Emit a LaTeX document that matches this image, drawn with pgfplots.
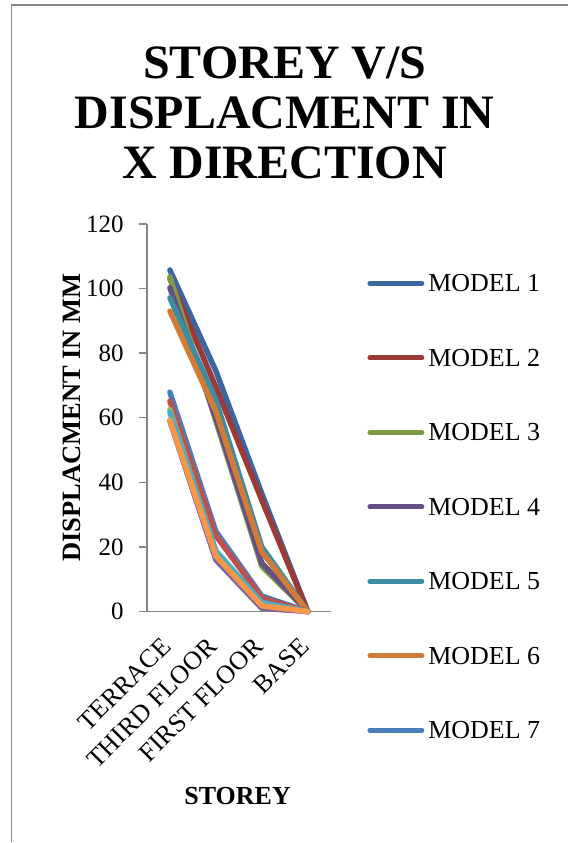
\documentclass[border=0pt]{standalone}
\usepackage{fontspec}
\setmainfont{Liberation Serif}
\usepackage{pgfplots}
\pgfplotsset{compat=1.18}

% series colours
\definecolor{mA}{HTML}{3B66A0}
\definecolor{mB}{HTML}{9C3A38}
\definecolor{mC}{HTML}{7D9A47}
\definecolor{mD}{HTML}{654F87}
\definecolor{mE}{HTML}{3A8DA3}
\definecolor{mF}{HTML}{D17C36}
\definecolor{lA}{HTML}{4A7EBB}
\definecolor{lB}{HTML}{C0504D}
\definecolor{lC}{HTML}{9BBB59}
\definecolor{lD}{HTML}{8064A2}
\definecolor{lE}{HTML}{4BACC6}
\definecolor{lF}{HTML}{F79646}
\definecolor{axisgray}{HTML}{868686}

\begin{document}
\begin{tikzpicture}
\fill[white] (0pt,0pt) rectangle (568pt,843pt);
\draw[axisgray, line width=1.3pt] (11.5pt,0pt) -- (11.5pt,838pt) -- (568pt,838pt);

% title
\node[font=\fontsize{48}{50}\selectfont\bfseries, anchor=base, inner sep=0pt] at (285pt,764.7pt) {STOREY V/S};
\node[font=\fontsize{48}{50}\selectfont\bfseries, anchor=base, inner sep=0pt] at (285pt,714.7pt) {DISPLACMENT IN};
\node[font=\fontsize{48}{50}\selectfont\bfseries, anchor=base, inner sep=0pt] at (285pt,664.7pt) {X DIRECTION};

\begin{axis}[
  at={(147pt,231pt)}, anchor=south west,
  scale only axis, width=184pt, height=388pt,
  xmin=-0.5, xmax=3.5, ymin=0, ymax=120,
  xtick={0,1,2,3},
  xticklabels={TERRACE,THIRD FLOOR,FIRST FLOOR,BASE},
  ytick={0,20,...,120},
  axis lines*=left,
  axis line style={draw=axisgray, line width=1.8pt},
  clip=false,
  xtick style={draw=none},
  ytick style={draw=axisgray, line width=1.5pt},
  tick align=outside, major tick length=8pt,
  /pgf/number format/assume math mode=true,
  y tick label style={font=\fontsize{25}{30}\selectfont, anchor=east, inner sep=0pt, xshift=-15pt},
  x tick label style={font=\fontsize{26}{31}\selectfont, xshift=-3.3pt, yshift=-22.7pt, rotate=45, anchor=east, inner sep=0pt},
  xlabel={STOREY},
  xlabel style={font=\fontsize{26}{30}\selectfont\bfseries, at={(axis description cs:0.4935,-0.4768)}, anchor=center, inner sep=0pt},
  ylabel={DISPLACMENT IN MM},
  ylabel style={font=\fontsize{26.5}{30}\selectfont\bfseries, at={(axis description cs:-0.4103,0.5)}, anchor=center, inner sep=0pt},
  every axis plot/.append style={line width=5.5pt, line cap=round, line join=round},
  legend cell align=left,
  legend style={at={(axis description cs:1.1984,0.8686)}, anchor=north west,
    draw=none, fill=none, inner sep=0pt, row sep=57.5pt, column sep=4pt,
    font=\fontsize{26}{30}\selectfont,
    nodes={inner sep=0pt, text height=17pt, text depth=0pt}},
  legend image code/.code={\draw[#1, line width=5pt, line cap=round] (0pt,0pt) -- (52pt,0pt);},
]
% x: 0 = TERRACE, 1 = THIRD FLOOR, 2 = FIRST FLOOR, 3 = BASE
\addplot[mA] coordinates {(0,105.7) (1,74.5) (2,36.5) (3,0)};
\addlegendentry{MODEL 1}
\addplot[mB] coordinates {(0,103.0) (1,69.5) (2,34.5) (3,0)};
\addlegendentry{MODEL 2}
\addplot[mC] coordinates {(0,103.6) (1,59.0) (2,14.0) (3,0)};
\addlegendentry{MODEL 3}
\addplot[mD] coordinates {(0,100.2) (1,60.0) (2,15.0) (3,0)};
\addlegendentry{MODEL 4}
\addplot[mE] coordinates {(0,97.1) (1,65.5) (2,20.0) (3,0)};
\addlegendentry{MODEL 5}
\addplot[mF] coordinates {(0,93.0) (1,62.0) (2,18.5) (3,0)};
\addlegendentry{MODEL 6}
\addplot[lA] coordinates {(0,67.9) (1,24.8) (2,4.8) (3,0)};
\addlegendentry{MODEL 7}
\addplot[lB, forget plot] coordinates {(0,65.1) (1,23.5) (2,4.2) (3,0)};
\addplot[lC, forget plot] coordinates {(0,62.5) (1,18.5) (2,2.5) (3,0)};
\addplot[lD, forget plot] coordinates {(0,59.0) (1,16.0) (2,1.0) (3,0)};
\addplot[lE, forget plot] coordinates {(0,61.7) (1,18.8) (2,2.8) (3,0)};
\addplot[lF, forget plot] coordinates {(0,59.2) (1,17.2) (2,1.8) (3,0)};
\end{axis}
\end{tikzpicture}
\end{document}
